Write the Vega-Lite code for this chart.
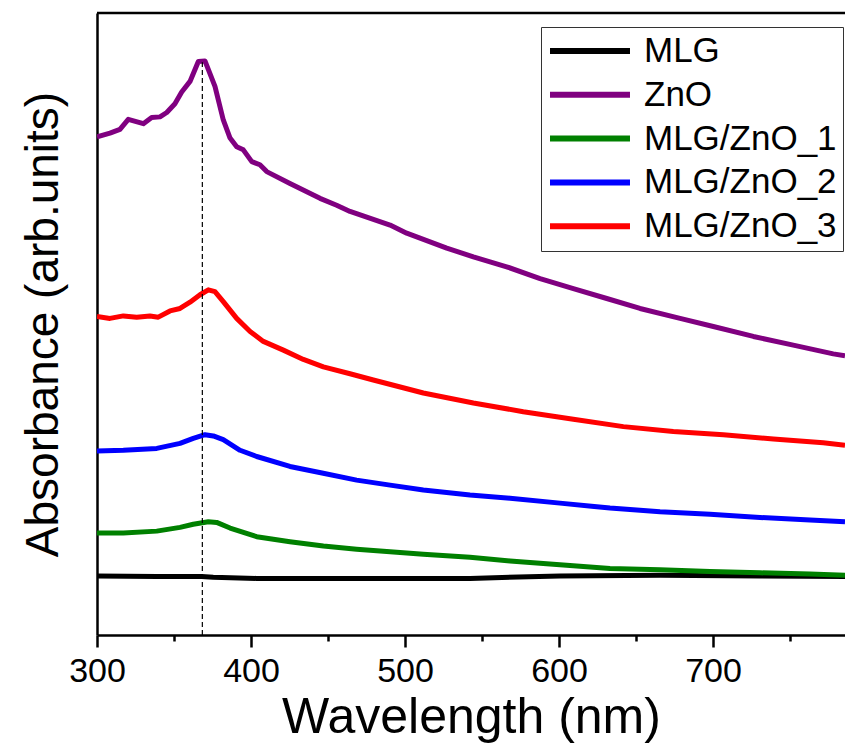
{
  "$schema": "https://vega.github.io/schema/vega-lite/v6.json",
  "width": 748,
  "height": 622,
  "autosize": {"type": "none"},
  "padding": {"left": 97, "top": 13, "right": 0, "bottom": 110},
  "background": "white",
  "config": {
    "view": {"stroke": null},
    "font": "Liberation Sans",
    "axis": {"labelFont": "Liberation Sans", "titleFont": "Liberation Sans", "titleFontWeight": "normal", "labelColor": "black", "titleColor": "black", "domainColor": "black", "tickColor": "black", "grid": false},
    "legend": {"labelFont": "Liberation Sans"}
  },
  "datasets": {
    "spectra": [
      {"s": "MLG", "w": 300, "a": 0.095},
      {"s": "MLG", "w": 338.8, "a": 0.094},
      {"s": "MLG", "w": 368, "a": 0.094},
      {"s": "MLG", "w": 375.5, "a": 0.093},
      {"s": "MLG", "w": 403.7, "a": 0.091},
      {"s": "MLG", "w": 446.9, "a": 0.091},
      {"s": "MLG", "w": 490.3, "a": 0.091},
      {"s": "MLG", "w": 542.2, "a": 0.091},
      {"s": "MLG", "w": 600.6, "a": 0.095},
      {"s": "MLG", "w": 665.6, "a": 0.096},
      {"s": "MLG", "w": 730.5, "a": 0.095},
      {"s": "MLG", "w": 785.7, "a": 0.094},

      {"s": "ZnO", "w": 300, "a": 0.801},
      {"s": "ZnO", "w": 308.4, "a": 0.807},
      {"s": "ZnO", "w": 314.9, "a": 0.813},
      {"s": "ZnO", "w": 320.3, "a": 0.829},
      {"s": "ZnO", "w": 330.1, "a": 0.822},
      {"s": "ZnO", "w": 335.5, "a": 0.832},
      {"s": "ZnO", "w": 340.9, "a": 0.833},
      {"s": "ZnO", "w": 345.3, "a": 0.840},
      {"s": "ZnO", "w": 350.6, "a": 0.854},
      {"s": "ZnO", "w": 355.0, "a": 0.873},
      {"s": "ZnO", "w": 360.4, "a": 0.890},
      {"s": "ZnO", "w": 365.8, "a": 0.922},
      {"s": "ZnO", "w": 370.1, "a": 0.923},
      {"s": "ZnO", "w": 376.6, "a": 0.882},
      {"s": "ZnO", "w": 382.0, "a": 0.828},
      {"s": "ZnO", "w": 386.4, "a": 0.799},
      {"s": "ZnO", "w": 390.7, "a": 0.785},
      {"s": "ZnO", "w": 395.0, "a": 0.780},
      {"s": "ZnO", "w": 400.5, "a": 0.761},
      {"s": "ZnO", "w": 405.8, "a": 0.756},
      {"s": "ZnO", "w": 410.2, "a": 0.745},
      {"s": "ZnO", "w": 425.3, "a": 0.726},
      {"s": "ZnO", "w": 444.8, "a": 0.702},
      {"s": "ZnO", "w": 455.6, "a": 0.691},
      {"s": "ZnO", "w": 464.3, "a": 0.681},
      {"s": "ZnO", "w": 490.3, "a": 0.659},
      {"s": "ZnO", "w": 501.1, "a": 0.646},
      {"s": "ZnO", "w": 527.1, "a": 0.622},
      {"s": "ZnO", "w": 544.4, "a": 0.608},
      {"s": "ZnO", "w": 566.0, "a": 0.592},
      {"s": "ZnO", "w": 587.7, "a": 0.573},
      {"s": "ZnO", "w": 609.3, "a": 0.557},
      {"s": "ZnO", "w": 631.0, "a": 0.541},
      {"s": "ZnO", "w": 652.6, "a": 0.525},
      {"s": "ZnO", "w": 678.6, "a": 0.509},
      {"s": "ZnO", "w": 700.2, "a": 0.496},
      {"s": "ZnO", "w": 726.2, "a": 0.480},
      {"s": "ZnO", "w": 752.1, "a": 0.466},
      {"s": "ZnO", "w": 778.1, "a": 0.452},
      {"s": "ZnO", "w": 785.7, "a": 0.449},

      {"s": "MLG/ZnO_1", "w": 300, "a": 0.164},
      {"s": "MLG/ZnO_1", "w": 317.1, "a": 0.164},
      {"s": "MLG/ZnO_1", "w": 338.8, "a": 0.167},
      {"s": "MLG/ZnO_1", "w": 353.9, "a": 0.173},
      {"s": "MLG/ZnO_1", "w": 362.5, "a": 0.178},
      {"s": "MLG/ZnO_1", "w": 372.3, "a": 0.182},
      {"s": "MLG/ZnO_1", "w": 377.7, "a": 0.181},
      {"s": "MLG/ZnO_1", "w": 386.4, "a": 0.172},
      {"s": "MLG/ZnO_1", "w": 403.7, "a": 0.158},
      {"s": "MLG/ZnO_1", "w": 425.3, "a": 0.150},
      {"s": "MLG/ZnO_1", "w": 447.0, "a": 0.143},
      {"s": "MLG/ZnO_1", "w": 468.6, "a": 0.138},
      {"s": "MLG/ZnO_1", "w": 490.3, "a": 0.134},
      {"s": "MLG/ZnO_1", "w": 511.9, "a": 0.130},
      {"s": "MLG/ZnO_1", "w": 542.2, "a": 0.125},
      {"s": "MLG/ZnO_1", "w": 568.2, "a": 0.119},
      {"s": "MLG/ZnO_1", "w": 600.6, "a": 0.113},
      {"s": "MLG/ZnO_1", "w": 633.1, "a": 0.107},
      {"s": "MLG/ZnO_1", "w": 665.6, "a": 0.105},
      {"s": "MLG/ZnO_1", "w": 698.1, "a": 0.102},
      {"s": "MLG/ZnO_1", "w": 730.5, "a": 0.100},
      {"s": "MLG/ZnO_1", "w": 763.0, "a": 0.098},
      {"s": "MLG/ZnO_1", "w": 785.7, "a": 0.096},

      {"s": "MLG/ZnO_2", "w": 300, "a": 0.296},
      {"s": "MLG/ZnO_2", "w": 317.1, "a": 0.297},
      {"s": "MLG/ZnO_2", "w": 338.8, "a": 0.300},
      {"s": "MLG/ZnO_2", "w": 353.9, "a": 0.308},
      {"s": "MLG/ZnO_2", "w": 362.5, "a": 0.316},
      {"s": "MLG/ZnO_2", "w": 370.1, "a": 0.322},
      {"s": "MLG/ZnO_2", "w": 375.5, "a": 0.320},
      {"s": "MLG/ZnO_2", "w": 382.0, "a": 0.314},
      {"s": "MLG/ZnO_2", "w": 392.9, "a": 0.297},
      {"s": "MLG/ZnO_2", "w": 403.7, "a": 0.287},
      {"s": "MLG/ZnO_2", "w": 425.3, "a": 0.271},
      {"s": "MLG/ZnO_2", "w": 446.9, "a": 0.260},
      {"s": "MLG/ZnO_2", "w": 468.6, "a": 0.249},
      {"s": "MLG/ZnO_2", "w": 490.3, "a": 0.241},
      {"s": "MLG/ZnO_2", "w": 511.9, "a": 0.233},
      {"s": "MLG/ZnO_2", "w": 542.2, "a": 0.225},
      {"s": "MLG/ZnO_2", "w": 568.2, "a": 0.220},
      {"s": "MLG/ZnO_2", "w": 600.6, "a": 0.212},
      {"s": "MLG/ZnO_2", "w": 633.1, "a": 0.204},
      {"s": "MLG/ZnO_2", "w": 665.6, "a": 0.198},
      {"s": "MLG/ZnO_2", "w": 698.1, "a": 0.194},
      {"s": "MLG/ZnO_2", "w": 730.5, "a": 0.189},
      {"s": "MLG/ZnO_2", "w": 763.0, "a": 0.185},
      {"s": "MLG/ZnO_2", "w": 785.7, "a": 0.182},

      {"s": "MLG/ZnO_3", "w": 300, "a": 0.512},
      {"s": "MLG/ZnO_3", "w": 308.4, "a": 0.509},
      {"s": "MLG/ZnO_3", "w": 317.1, "a": 0.513},
      {"s": "MLG/ZnO_3", "w": 325.8, "a": 0.511},
      {"s": "MLG/ZnO_3", "w": 334.4, "a": 0.513},
      {"s": "MLG/ZnO_3", "w": 339.8, "a": 0.511},
      {"s": "MLG/ZnO_3", "w": 347.4, "a": 0.521},
      {"s": "MLG/ZnO_3", "w": 353.9, "a": 0.525},
      {"s": "MLG/ZnO_3", "w": 360.4, "a": 0.535},
      {"s": "MLG/ZnO_3", "w": 366.9, "a": 0.547},
      {"s": "MLG/ZnO_3", "w": 372.3, "a": 0.555},
      {"s": "MLG/ZnO_3", "w": 376.6, "a": 0.552},
      {"s": "MLG/ZnO_3", "w": 382.0, "a": 0.536},
      {"s": "MLG/ZnO_3", "w": 390.7, "a": 0.509},
      {"s": "MLG/ZnO_3", "w": 399.4, "a": 0.488},
      {"s": "MLG/ZnO_3", "w": 408.0, "a": 0.472},
      {"s": "MLG/ZnO_3", "w": 421.0, "a": 0.458},
      {"s": "MLG/ZnO_3", "w": 434.0, "a": 0.443},
      {"s": "MLG/ZnO_3", "w": 447.0, "a": 0.431},
      {"s": "MLG/ZnO_3", "w": 464.3, "a": 0.420},
      {"s": "MLG/ZnO_3", "w": 479.4, "a": 0.410},
      {"s": "MLG/ZnO_3", "w": 511.9, "a": 0.389},
      {"s": "MLG/ZnO_3", "w": 544.4, "a": 0.373},
      {"s": "MLG/ZnO_3", "w": 576.8, "a": 0.359},
      {"s": "MLG/ZnO_3", "w": 609.3, "a": 0.347},
      {"s": "MLG/ZnO_3", "w": 641.8, "a": 0.335},
      {"s": "MLG/ZnO_3", "w": 674.2, "a": 0.327},
      {"s": "MLG/ZnO_3", "w": 706.7, "a": 0.322},
      {"s": "MLG/ZnO_3", "w": 739.2, "a": 0.315},
      {"s": "MLG/ZnO_3", "w": 771.6, "a": 0.309},
      {"s": "MLG/ZnO_3", "w": 785.7, "a": 0.305}
    ],
    "marker": [
      {"w": 368.4, "a0": 0, "a1": 0.921}
    ]
  },
  "layer": [
    {
      "data": {"name": "spectra"},
      "mark": {"type": "line", "strokeWidth": 5, "strokeJoin": "round", "strokeCap": "butt", "clip": true},
      "encoding": {
        "x": {
          "field": "w", "type": "quantitative",
          "scale": {"domain": [300, 785.7], "nice": false, "zero": false},
          "axis": {
            "orient": "bottom",
            "title": "Wavelength (nm)",
            "titleFontSize": 50,
            "titlePadding": 4,
            "values": [300, 350, 400, 450, 500, 550, 600, 650, 700, 750],
            "labelExpr": "datum.value % 100 === 0 ? datum.label : ''",
            "labelFontSize": 34,
            "labelPadding": 7,
            "labelFlush": false,
            "labelOverlap": false,
            "tickSize": {"condition": {"test": "datum.value % 100 === 0", "value": 12}, "value": 6},
            "tickWidth": 2.5,
            "domainWidth": 2.5
          }
        },
        "y": {
          "field": "a", "type": "quantitative",
          "scale": {"domain": [0, 1], "nice": false, "zero": false},
          "axis": {
            "title": "Absorbance (arb.units)",
            "titleFontSize": 46,
            "labels": false,
            "ticks": false,
            "titlePadding": 30,
            "domainWidth": 2.5
          }
        },
        "color": {
          "field": "s", "type": "nominal",
          "scale": {
            "domain": ["MLG", "ZnO", "MLG/ZnO_1", "MLG/ZnO_2", "MLG/ZnO_3"],
            "range": ["#000000", "#800080", "#008000", "#0000ff", "#ff0000"]
          },
          "legend": {
            "title": null,
            "orient": "none",
            "legendX": 444,
            "legendY": 14,
            "symbolType": "M-1,0H4.333",
            "symbolSize": 900,
            "symbolStrokeWidth": 6,
            "labelFontSize": 35,
            "labelOffset": 61,
            "labelLimit": 0,
            "labelColor": "black",
            "fillColor": "white",
            "strokeColor": "#333333",
            "padding": 6,
            "rowPadding": 7.8
          }
        },
        "order": {"field": "w", "type": "quantitative"}
      }
    },
    {
      "data": {"name": "marker"},
      "mark": {"type": "rule", "color": "black", "strokeWidth": 1.2, "strokeDash": [5, 3]},
      "encoding": {
        "x": {"field": "w", "type": "quantitative"},
        "y": {"field": "a0", "type": "quantitative"},
        "y2": {"field": "a1"}
      }
    },
    {
      "data": {"values": [{"top": 1}]},
      "mark": {"type": "rule", "color": "black", "strokeWidth": 2.5},
      "encoding": {
        "y": {"field": "top", "type": "quantitative"}
      }
    }
  ]
}
